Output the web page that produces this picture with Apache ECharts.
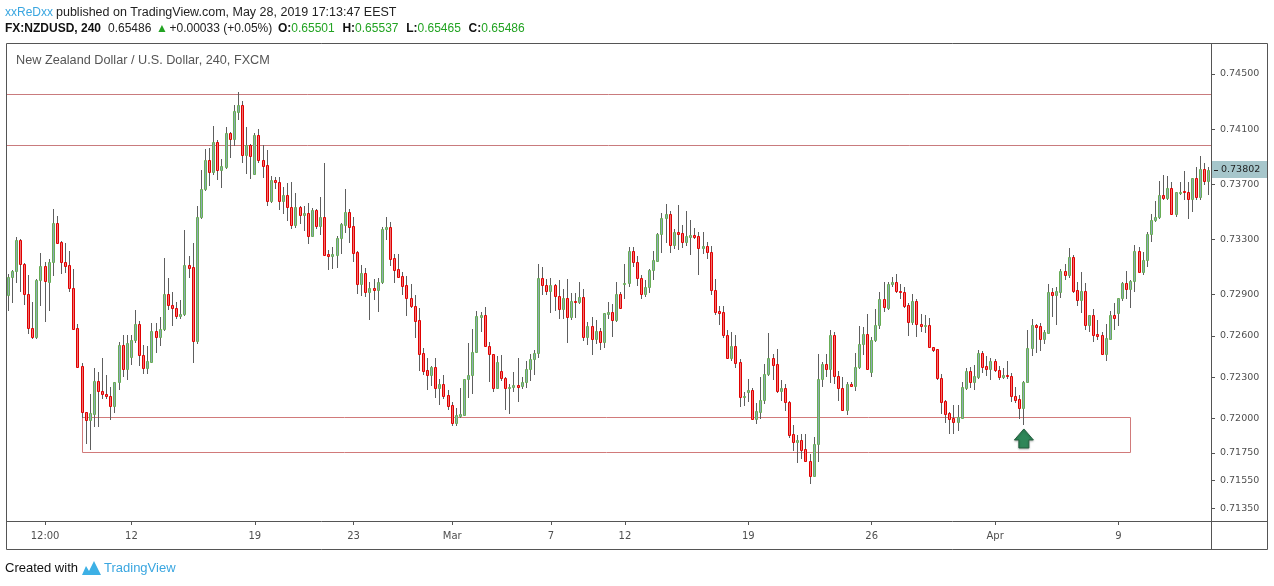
<!DOCTYPE html>
<html><head><meta charset="utf-8">
<script src="https://cdn.jsdelivr.net/npm/echarts@6/dist/echarts.min.js"></script>
<style>html,body{margin:0;padding:0;background:#fff}#c{width:1274px;height:586px}</style>
</head><body><div id="c"></div>
<script>
// rows: [open, close, low, high] — 4H candles, NZDUSD (FXCM)
const feb05 = [
[0.72896,0.73025,0.72787,0.73049],[0.73025,0.73068,0.72848,0.73078],[0.73068,0.73293,0.72988,0.73317],
[0.73293,0.73119,0.72928,0.73305],[0.73119,0.72901,0.72833,0.73126],[0.72901,0.72654,0.72618,0.73041],
[0.72654,0.72589,0.72585,0.72848],[0.72589,0.73003,0.72585,0.73010],[0.73003,0.73107,0.72824,0.73199],
[0.73107,0.72995,0.72710,0.73138],[0.72993,0.73136,0.72787,0.73155],[0.73133,0.73419,0.73041,0.73520],
[0.73419,0.73276,0.73271,0.73470],[0.73279,0.73133,0.73058,0.73291],[0.73133,0.73109,0.73066,0.73276],
[0.73114,0.72945,0.72928,0.73216],[0.72945,0.72652,0.72647,0.73085],[0.72654,0.72376,0.72371,0.72683],
[0.72379,0.72050,0.72009,0.72400],[0.72050,0.71987,0.71820,0.72050],[0.71987,0.72038,0.71779,0.72175],
[0.72035,0.72272,0.71948,0.72367],[0.72272,0.72202,0.71948,0.72335],[0.72202,0.72180,0.72146,0.72439],
[0.72180,0.72161,0.72146,0.72316],[0.72161,0.72088,0.71994,0.72231],[0.72088,0.72263,0.72045,0.72267],
[0.72263,0.72531,0.72212,0.72558],[0.72531,0.72357,0.72311,0.72606],[0.72357,0.72546,0.72287,0.72606]
];
const feb12 = [
[0.72449,0.72570,0.72396,0.72606],[0.72570,0.72683,0.72558,0.72787],[0.72683,0.72458,0.72388,0.72708],
[0.72458,0.72369,0.72333,0.72533],[0.72369,0.72417,0.72333,0.72529],[0.72412,0.72635,0.72412,0.72693],
[0.72635,0.72589,0.72485,0.72693],[0.72589,0.72647,0.72533,0.72736],[0.72647,0.72901,0.72642,0.73165],
[0.72901,0.72821,0.72792,0.73019],[0.72821,0.72799,0.72681,0.72918],[0.72799,0.72746,0.72727,0.72845],
[0.72746,0.72756,0.72732,0.72860],[0.72756,0.73111,0.72751,0.73368],[0.73111,0.73094,0.73027,0.73179],
[0.73097,0.72565,0.72412,0.73273],[0.72565,0.73460,0.72550,0.73542],[0.73460,0.73663,0.73457,0.73803],
[0.73663,0.73873,0.73656,0.73956],[0.73873,0.73791,0.73697,0.73960],[0.73791,0.74004,0.73772,0.74122],
[0.74004,0.73806,0.73740,0.74021],[0.73806,0.73832,0.73682,0.73883],[0.73827,0.74069,0.73820,0.74115],
[0.74069,0.74026,0.73900,0.74081],[0.74026,0.74231,0.73985,0.74275],[0.74226,0.74275,0.74171,0.74369],
[0.74275,0.73914,0.73864,0.74304],[0.73914,0.73985,0.73781,0.74115],[0.73985,0.73902,0.73748,0.73992]
];
const feb19 = [
[0.73772,0.74055,0.73772,0.74074],[0.74055,0.73873,0.73859,0.74101],[0.73873,0.73835,0.73755,0.73985],
[0.73837,0.73576,0.73547,0.73948],[0.73576,0.73728,0.73569,0.73760],[0.73728,0.73714,0.73675,0.73752],
[0.73714,0.73576,0.73523,0.73752],[0.73576,0.73619,0.73494,0.73677],[0.73619,0.73532,0.73443,0.73709],
[0.73532,0.73402,0.73380,0.73716],[0.73402,0.73532,0.73392,0.73636],[0.73532,0.73477,0.73416,0.73542],
[0.73474,0.73489,0.73368,0.73542],[0.73489,0.73327,0.73274,0.73564],[0.73327,0.73513,0.73327,0.73528],
[0.73513,0.73399,0.73385,0.73520],[0.73399,0.73460,0.73339,0.73605],[0.73460,0.73189,0.73184,0.73854],
[0.73191,0.73182,0.73085,0.73223],[0.73182,0.73191,0.73095,0.73244],[0.73189,0.73310,0.73100,0.73324],
[0.73307,0.73411,0.73201,0.73416],[0.73407,0.73496,0.73356,0.73665],[0.73496,0.73392,0.73283,0.73520],
[0.73394,0.73203,0.73143,0.73462],[0.73206,0.72978,0.72908,0.73213],[0.72978,0.73053,0.72896,0.73114],
[0.73053,0.72920,0.72891,0.73090],[0.72920,0.72945,0.72722,0.72993],[0.72945,0.72935,0.72865,0.73012]
];
const feb26 = [
[0.72935,0.72988,0.72780,0.73017],[0.72988,0.73373,0.72986,0.73387],[0.73373,0.73390,0.73303,0.73462],
[0.73387,0.73160,0.73114,0.73424],[0.73162,0.73080,0.72990,0.73194],[0.73083,0.73029,0.73029,0.73194],
[0.73032,0.72964,0.72903,0.73063],[0.72966,0.72872,0.72751,0.73032],[0.72872,0.72814,0.72807,0.72976],
[0.72814,0.72710,0.72591,0.72894],[0.72712,0.72470,0.72352,0.72800],[0.72473,0.72347,0.72323,0.72512],
[0.72349,0.72318,0.72214,0.72439],[0.72318,0.72371,0.72243,0.72381],[0.72371,0.72219,0.72156,0.72439],
[0.72219,0.72248,0.72105,0.72284],[0.72248,0.72166,0.72151,0.72316],[0.72171,0.72093,0.72069,0.72207],
[0.72098,0.71970,0.71953,0.72122],[0.71970,0.72025,0.71953,0.72079],[0.72021,0.72033,0.72013,0.72221],
[0.72025,0.72284,0.72025,0.72284],[0.72284,0.72313,0.72154,0.72548],[0.72313,0.72480,0.72188,0.72650],
[0.72480,0.72744,0.72480,0.72780],[0.72739,0.72749,0.72635,0.72775],[0.72749,0.72524,0.72524,0.72809],
[0.72524,0.72466,0.72275,0.72555],[0.72466,0.72224,0.72200,0.72471],[0.72224,0.72408,0.72224,0.72456]
];
const mar05 = [
[0.72342,0.72292,0.72279,0.72461],[0.72294,0.72219,0.72071,0.72301],[0.72219,0.72229,0.72042,0.72253],
[0.72226,0.72243,0.72202,0.72337],[0.72243,0.72231,0.72129,0.72437],[0.72233,0.72267,0.72219,0.72304],
[0.72267,0.72357,0.72229,0.72417],[0.72357,0.72429,0.72282,0.72468],[0.72429,0.72473,0.72323,0.72495],
[0.72473,0.73017,0.72444,0.73121],[0.73017,0.72966,0.72904,0.73099],[0.72969,0.72923,0.72906,0.73012],
[0.72923,0.72969,0.72775,0.73017],[0.72969,0.72887,0.72787,0.72976],[0.72887,0.72792,0.72732,0.73005],
[0.72792,0.72872,0.72732,0.72940],[0.72872,0.72734,0.72558,0.73012],[0.72734,0.72850,0.72720,0.72908],
[0.72853,0.72843,0.72739,0.72908],[0.72846,0.72879,0.72841,0.72988],[0.72879,0.72594,0.72572,0.72937],
[0.72594,0.72669,0.72541,0.72703],[0.72669,0.72579,0.72471,0.72737],[0.72579,0.72633,0.72548,0.72715],
[0.72635,0.72558,0.72504,0.72654],[0.72558,0.72763,0.72521,0.72763],[0.72761,0.72773,0.72732,0.72845],
[0.72773,0.72717,0.72601,0.72831],[0.72717,0.72904,0.72710,0.72988],[0.72904,0.72800,0.72800,0.72920]
];
const mar12 = [
[0.72974,0.72981,0.72877,0.73121],[0.72981,0.73216,0.72964,0.73245],[0.73216,0.73133,0.73109,0.73245],
[0.73136,0.73017,0.72971,0.73179],[0.73017,0.72901,0.72877,0.73041],[0.72901,0.72952,0.72891,0.73005],
[0.72952,0.73078,0.72920,0.73085],[0.73075,0.73148,0.73015,0.73216],[0.73145,0.73339,0.73143,0.73349],
[0.73337,0.73455,0.73211,0.73491],[0.73455,0.73484,0.73281,0.73557],[0.73484,0.73257,0.73211,0.73508],
[0.73257,0.73353,0.73237,0.73375],[0.73353,0.73341,0.73230,0.73549],[0.73344,0.73279,0.73245,0.73404],
[0.73279,0.73324,0.73259,0.73506],[0.73320,0.73332,0.73194,0.73441],[0.73332,0.73320,0.73308,0.73383],
[0.73322,0.73235,0.73051,0.73356],[0.73235,0.73252,0.73199,0.73353],[0.73252,0.73208,0.73165,0.73283],
[0.73208,0.72930,0.72906,0.73249],[0.72930,0.72775,0.72761,0.73010],[0.72780,0.72768,0.72688,0.72819],
[0.72770,0.72604,0.72594,0.72816],[0.72606,0.72437,0.72437,0.72642],[0.72437,0.72526,0.72425,0.72630],
[0.72526,0.72405,0.72376,0.72606],[0.72410,0.72154,0.72093,0.72432],[0.72154,0.72163,0.72098,0.72192]
];
const mar19 = [
[0.72195,0.72204,0.72127,0.72289],[0.72204,0.71999,0.71999,0.72221],[0.71999,0.72054,0.71970,0.72115],
[0.72050,0.72132,0.72006,0.72301],[0.72132,0.72321,0.72113,0.72393],[0.72321,0.72437,0.72316,0.72621],
[0.72437,0.72391,0.72289,0.72471],[0.72393,0.72202,0.72195,0.72504],[0.72202,0.72219,0.72137,0.72277],
[0.72219,0.72117,0.72064,0.72250],[0.72122,0.71880,0.71868,0.72127],[0.71885,0.71827,0.71771,0.71953],
[0.71827,0.71842,0.71682,0.71880],[0.71842,0.71774,0.71711,0.71888],[0.71776,0.71689,0.71689,0.71888],
[0.71689,0.71580,0.71534,0.71740],[0.71580,0.71813,0.71580,0.71863],[0.71813,0.72284,0.71694,0.72468],
[0.72284,0.72393,0.72233,0.72408],[0.72393,0.72357,0.72311,0.72466],[0.72357,0.72604,0.72267,0.72642],
[0.72604,0.72306,0.72255,0.72628],[0.72306,0.72219,0.72137,0.72345],[0.72219,0.72064,0.72064,0.72301],
[0.72064,0.72248,0.72030,0.72267],[0.72248,0.72233,0.72233,0.72263],[0.72233,0.72371,0.72204,0.72473],
[0.72371,0.72538,0.72369,0.72669],[0.72538,0.72611,0.72466,0.72664],[0.72611,0.72362,0.72362,0.72756]
];
const mar26 = [
[0.72335,0.72567,0.72311,0.72594],[0.72567,0.72676,0.72562,0.72795],[0.72676,0.72867,0.72654,0.72920],
[0.72867,0.72807,0.72778,0.72988],[0.72804,0.72974,0.72797,0.72993],[0.72974,0.72988,0.72964,0.73029],
[0.72988,0.72923,0.72918,0.73049],[0.72928,0.72916,0.72872,0.72976],[0.72916,0.72819,0.72812,0.72952],
[0.72821,0.72703,0.72608,0.72836],[0.72703,0.72853,0.72683,0.72904],[0.72853,0.72683,0.72601,0.72865],
[0.72683,0.72674,0.72637,0.72758],[0.72674,0.72679,0.72630,0.72751],[0.72679,0.72517,0.72517,0.72729],
[0.72519,0.72498,0.72490,0.72519],[0.72504,0.72292,0.72287,0.72504],[0.72294,0.72122,0.72040,0.72325],
[0.72127,0.72035,0.71972,0.72132],[0.72040,0.71996,0.71892,0.72050],[0.72004,0.71977,0.71897,0.72098],
[0.71977,0.72011,0.71917,0.72098],[0.72006,0.72229,0.72006,0.72265],[0.72224,0.72342,0.72217,0.72364],
[0.72342,0.72267,0.72231,0.72376],[0.72267,0.72308,0.72212,0.72388],[0.72304,0.72475,0.72296,0.72495],
[0.72475,0.72376,0.72335,0.72490],[0.72379,0.72357,0.72316,0.72454],[0.72357,0.72415,0.72284,0.72439]
];
const apr02 = [
[0.72415,0.72350,0.72345,0.72429],[0.72350,0.72299,0.72284,0.72381],[0.72299,0.72316,0.72291,0.72364],
[0.72316,0.72308,0.72296,0.72417],[0.72308,0.72161,0.72129,0.72333],[0.72161,0.72137,0.72122,0.72226],
[0.72139,0.72079,0.72006,0.72171],[0.72079,0.72263,0.71963,0.72272],[0.72263,0.72509,0.72263,0.72642],
[0.72509,0.72676,0.72461,0.72720],[0.72676,0.72666,0.72480,0.72683],[0.72671,0.72575,0.72498,0.72691],
[0.72575,0.72628,0.72546,0.72642],[0.72623,0.72916,0.72618,0.72974],[0.72916,0.72899,0.72746,0.72950],
[0.72899,0.72925,0.72686,0.72954],[0.72921,0.73071,0.72882,0.73085],[0.73071,0.73044,0.73013,0.73121],
[0.73044,0.73172,0.73030,0.73238],[0.73172,0.72925,0.72918,0.73187],[0.72930,0.72863,0.72826,0.72991],
[0.72863,0.72925,0.72776,0.73063],[0.72925,0.72681,0.72650,0.72983],[0.72681,0.72749,0.72638,0.72749],
[0.72749,0.72609,0.72563,0.72795],[0.72611,0.72601,0.72575,0.72713],[0.72604,0.72468,0.72468,0.72628],
[0.72468,0.72584,0.72427,0.72686],[0.72580,0.72751,0.72577,0.72780],[0.72751,0.72727,0.72652,0.72838]
];
const apr09 = [
[0.72768,0.72872,0.72681,0.72877],[0.72872,0.72984,0.72860,0.72993],[0.72984,0.72942,0.72875,0.73071],
[0.72942,0.72996,0.72809,0.73005],[0.72996,0.73216,0.72925,0.73262],[0.73216,0.73066,0.73066,0.73247],
[0.73066,0.73150,0.73051,0.73208],[0.73148,0.73339,0.73109,0.73356],[0.73337,0.73438,0.73291,0.73484],
[0.73438,0.73462,0.73436,0.73581],[0.73460,0.73622,0.73458,0.73721],[0.73622,0.73598,0.73596,0.73767],
[0.73598,0.73673,0.73593,0.73760],[0.73673,0.73487,0.73487,0.73717],[0.73487,0.73641,0.73472,0.73646],
[0.73639,0.73646,0.73632,0.73717],[0.73651,0.73641,0.73591,0.73796],[0.73644,0.73596,0.73458,0.73717],
[0.73596,0.73746,0.73508,0.73748],[0.73746,0.73610,0.73593,0.73823],[0.73610,0.73811,0.73591,0.73905],
[0.73811,0.73724,0.73704,0.73852],[0.73724,0.73802,0.73632,0.73825]
];

// time-axis labels (candle index -> label)
const tickIdx = [9, 30, 60, 84, 108, 132, 150, 180, 210, 240, 270];
const tickLabels = ['12:00', '12', '19', '23', 'Mar', '7', '12', '19', '26', 'Apr', '9'];
// price-axis labels
const priceTicks = [0.745, 0.741, 0.737, 0.733, 0.729, 0.726, 0.723, 0.720, 0.7175, 0.7155, 0.7135];
// drawings
const levels = [0.74352, 0.73986];
const zone = [18, 273, 0.72010, 0.71755];   // [from index, to index, top, bottom]
const arrowAt = [247, 0.71855];
const lastPrice = 0.73802;

const candles = [].concat(feb05, feb12, feb19, feb26, mar05, mar12, mar19, mar26, apr02, apr09);
const cats = candles.map((_, i) => String(i));
const rows = candles.map((r, i) => [i, r[0], r[1], r[2], r[3]]);
const labelAt = {};
tickIdx.forEach((k, j) => { labelAt[k] = tickLabels[j]; });
const isTick = (i) => labelAt[i] !== undefined;

const FONT = 'DejaVu Sans';
const UI = 'Liberation Sans';

function renderCandle(params, api) {
  const i = api.value(0), o = api.value(1), c = api.value(2), l = api.value(3), h = api.value(4);
  const po = api.coord([i, o]), pc = api.coord([i, c]), pl = api.coord([i, l]), ph = api.coord([i, h]);
  const cx = Math.floor(po[0]);
  const up = c >= o;
  const top = Math.round(Math.min(po[1], pc[1])), bot = Math.round(Math.max(po[1], pc[1]));
  return {
    type: 'group',
    children: [
      { type: 'line', shape: { x1: cx + 0.5, y1: Math.round(ph[1]), x2: cx + 0.5, y2: Math.round(pl[1]) + 1 },
        style: { stroke: '#5e5e5e', lineWidth: 1 } },
      { type: 'rect', shape: { x: cx - 0.5, y: top + 0.5, width: 2, height: Math.max(bot - top, 1) },
        style: { fill: up ? '#8ea9b6' : '#ef7070', stroke: up ? '#68ad55' : '#e00000', lineWidth: 1 } }
    ]
  };
}

function renderZone(params, api) {
  const a = api.coord([api.value(0), api.value(2)]);
  const b = api.coord([api.value(1), api.value(3)]);
  const x0 = Math.floor(a[0]) + 0.5, x1 = Math.floor(b[0]) + 0.5;
  const y0 = Math.round(a[1]) + 0.5, y1 = Math.round(b[1]) + 0.5;
  return { type: 'rect', shape: { x: x0, y: y0, width: x1 - x0, height: y1 - y0 },
    style: { fill: 'rgba(255,255,255,0)', stroke: '#d17a7a', lineWidth: 1 } };
}

function renderLevel(params, api) {
  const cs = params.coordSys;
  const y = Math.round(api.coord([0, api.value(1)])[1]) + 0.5;
  return { type: 'line', shape: { x1: cs.x, y1: y, x2: cs.x + cs.width, y2: y },
    style: { stroke: '#c97b7d', lineWidth: 1 } };
}

function renderLastPrice(params, api) {
  const cs = params.coordSys;
  const y = Math.round(api.coord([api.value(0), api.value(1)])[1]);
  const x = cs.x + cs.width + 1;
  return { type: 'group', children: [
    { type: 'rect', shape: { x: x, y: y - 9, width: 55, height: 17 }, style: { fill: '#a6c6cb' } },
    { type: 'line', shape: { x1: cs.x + cs.width + 3, y1: y + 0.5, x2: cs.x + cs.width + 7, y2: y + 0.5 },
      style: { stroke: '#222', lineWidth: 1 } },
    { type: 'text', x: x + 9, y: y, style: { text: api.value(1).toFixed(5), fill: '#1e1e1e',
      font: '9.5px "DejaVu Sans"', verticalAlign: 'middle', align: 'left' } }
  ] };
}

function hdr(text, x, y, color, size, bold) {
  return { type: 'text', silent: true, x: x, y: y, z: 10,
    style: { text: text, fill: color, fontFamily: UI, fontSize: size, fontWeight: bold ? 'bold' : 'normal',
      verticalAlign: 'middle' } };
}

const chart = echarts.init(document.getElementById('c'), null, { renderer: 'canvas' });
chart.setOption({
  animation: false,
  backgroundColor: '#ffffff',
  grid: { left: 6, right: 63, top: 43, bottom: 65, containLabel: false },
  xAxis: {
    type: 'category', data: cats, boundaryGap: true,
    axisLine: { show: false },
    axisTick: { show: true, interval: (i) => isTick(i), alignWithLabel: true, length: 4, lineStyle: { color: '#555' } },
    axisLabel: { interval: (i) => isTick(i), formatter: (v, i) => labelAt[i] || '', color: '#4f4f4f',
      fontFamily: FONT, fontSize: 10, margin: 10 },
    splitLine: { show: false }
  },
  yAxis: {
    type: 'value', position: 'right', min: 0.71256, max: 0.74725,
    axisLine: { show: false }, splitLine: { show: false },
    axisTick: { show: true, customValues: priceTicks, length: 4, lineStyle: { color: '#555' } },
    axisLabel: { customValues: priceTicks, formatter: (v) => v.toFixed(5), margin: 9, color: '#4f4f4f',
      fontFamily: FONT, fontSize: 9.5 }
  },
  series: [
    {
      type: 'custom', name: 'zone', z: 1, silent: true,
      data: [zone], encode: { x: [0, 1], y: [2, 3] },
      renderItem: renderZone
    },
    {
      type: 'custom', name: 'levels', z: 1, silent: true,
      data: levels.map(v => [0, v]), encode: { x: 0, y: 1 },
      renderItem: renderLevel
    },
    {
      type: 'custom', name: 'NZDUSD', z: 2, silent: true, clip: true,
      data: rows, encode: { x: 0, y: [1, 2, 3, 4] },
      renderItem: renderCandle,
      markPoint: {
        silent: true, animation: false,
        symbol: 'path://M9.5,0 L19,11 L14.5,11 L14.5,19 L4.5,19 L4.5,11 L0,11 Z',
        symbolSize: [19, 19],
        itemStyle: { color: '#2e8658', borderColor: '#24613f', borderWidth: 1,
          shadowColor: 'rgba(0,0,0,0.25)', shadowBlur: 2, shadowOffsetY: 1 },
        label: { show: false },
        data: [{ coord: arrowAt }]
      }
    },
    {
      type: 'custom', name: 'last', z: 5, silent: true, clip: false,
      data: [[candles.length - 1, lastPrice]], encode: { x: 0, y: 1 },
      renderItem: renderLastPrice
    }
  ],
  graphic: [
    // frame
    { type: 'rect', silent: true, shape: { x: 6.5, y: 43.5, width: 1261, height: 506 },
      style: { fill: 'none', stroke: '#555', lineWidth: 1 }, z: 10 },
    { type: 'line', silent: true, shape: { x1: 1211.5, y1: 43, x2: 1211.5, y2: 550 },
      style: { stroke: '#555', lineWidth: 1 }, z: 10 },
    { type: 'line', silent: true, shape: { x1: 6, y1: 521.5, x2: 1268, y2: 521.5 },
      style: { stroke: '#555', lineWidth: 1 }, z: 10 },
    // header line 1
    hdr('xxReDxx', 5, 12.5, '#3aa6e0', 12, false),
    hdr('published on TradingView.com, May 28, 2019 17:13:47 EEST', 56, 12.5, '#222', 12.5, false),
    // header line 2
    hdr('FX:NZDUSD, 240', 5, 29, '#111', 12, true),
    hdr('0.65486', 108, 29, '#222', 12, false),
    hdr('▲', 156, 29, '#22a322', 12, false),
    hdr('+0.00033 (+0.05%)', 169.5, 29, '#222', 12, false),
    hdr('O:', 278, 29, '#111', 12, true),
    hdr('0.65501', 291.3, 29, '#22a322', 12, false),
    hdr('H:', 342.4, 29, '#111', 12, true),
    hdr('0.65537', 355.1, 29, '#22a322', 12, false),
    hdr('L:', 406.2, 29, '#111', 12, true),
    hdr('0.65465', 417.5, 29, '#22a322', 12, false),
    hdr('C:', 468.6, 29, '#111', 12, true),
    hdr('0.65486', 481.3, 29, '#22a322', 12, false),
    // pane title
    { type: 'text', silent: true, left: 16, top: 54, z: 10,
      style: { text: 'New Zealand Dollar / U.S. Dollar, 240, FXCM', fill: '#555', fontFamily: UI, fontSize: 12.7 } },
    // footer
    hdr('Created with', 5, 568, '#111', 13, false),
    { type: 'polygon', silent: true, z: 10,
      shape: { points: [[82, 575], [86, 566], [89, 571], [94, 561], [101, 575]] },
      style: { fill: '#3db0e5' } },
    hdr('TradingView', 104, 568, '#3aa6e0', 13, false)
  ]
});
</script>
</body></html>
